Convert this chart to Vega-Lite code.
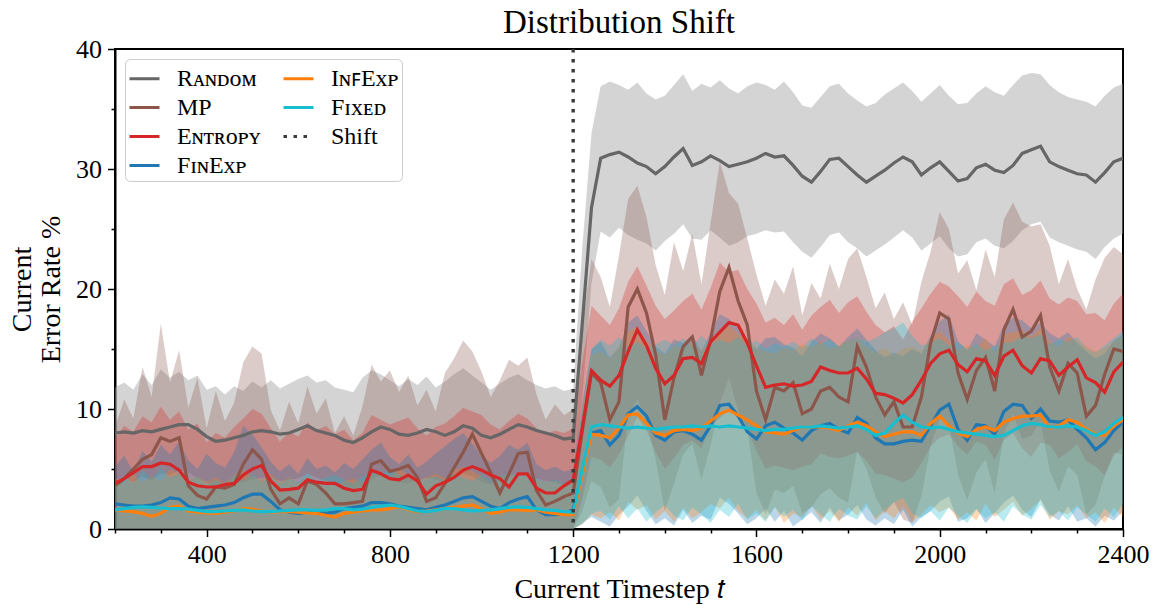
{
  "$schema": "https://vega.github.io/schema/vega-lite/v6.json",
  "width": 1008,
  "height": 480,
  "autosize": {"type": "none"},
  "padding": {"left": 115, "top": 49, "right": 30, "bottom": 76},
  "background": "white",
  "config": {
    "font": "Liberation Serif",
    "view": {"stroke": "black", "strokeWidth": 2},
    "axis": {
      "grid": false,
      "domainColor": "black",
      "domainWidth": 2,
      "tickColor": "black",
      "tickWidth": 1.5,
      "labelColor": "black",
      "labelFont": "Liberation Serif",
      "labelFontSize": 26,
      "titleFont": "Liberation Serif",
      "titleFontSize": 28,
      "titleFontWeight": "normal",
      "titleColor": "black"
    }
  },
  "title": {
    "text": "Distribution Shift",
    "font": "Liberation Serif",
    "fontSize": 33,
    "fontWeight": "normal",
    "color": "black",
    "anchor": "middle",
    "frame": "group",
    "offset": -4
  },
  "data": {
    "values": [
      {"t":200,"r":8.0,"rl":4.1,"rh":11.8,"m":3.6,"ml":0,"mh":8.5,"e":3.8,"el":0,"eh":7.5,"f":2.1,"fl":0,"fh":5.2,"i":1.6,"il":0,"ih":4.2,"x":1.6,"xl":0,"xh":3.9},
      {"t":220,"r":8.1,"rl":4.3,"rh":12.2,"m":4.2,"ml":0,"mh":10.8,"e":4.2,"el":0,"eh":8.6,"f":2.0,"fl":0,"fh":6.1,"i":1.5,"il":0,"ih":3.8,"x":1.7,"xl":0,"xh":4.4},
      {"t":240,"r":8.0,"rl":3.9,"rh":11.6,"m":5.0,"ml":0,"mh":9.2,"e":4.7,"el":0,"eh":8.1,"f":1.9,"fl":0,"fh":4.8,"i":1.45,"il":0,"ih":4.6,"x":1.8,"xl":0,"xh":3.8},
      {"t":260,"r":8.2,"rl":4.4,"rh":12.9,"m":5.8,"ml":0,"mh":13.5,"e":5.2,"el":0,"eh":9.4,"f":1.9,"fl":0,"fh":6.5,"i":1.3,"il":0,"ih":3.9,"x":1.85,"xl":0,"xh":4.9},
      {"t":280,"r":8.1,"rl":4.0,"rh":12.0,"m":6.2,"ml":0,"mh":11.0,"e":5.2,"el":0,"eh":8.9,"f":2.0,"fl":0,"fh":5.6,"i":1.05,"il":0,"ih":4.4,"x":1.8,"xl":0,"xh":4.2},
      {"t":300,"r":8.3,"rl":4.6,"rh":13.3,"m":7.6,"ml":0,"mh":17.1,"e":5.5,"el":0,"eh":10.2,"f":2.2,"fl":0,"fh":7.0,"i":1.3,"il":0,"ih":4.0,"x":1.75,"xl":0,"xh":5.1},
      {"t":320,"r":8.5,"rl":4.5,"rh":12.6,"m":7.3,"ml":0,"mh":12.2,"e":5.4,"el":0,"eh":9.1,"f":2.6,"fl":0,"fh":6.2,"i":1.8,"il":0,"ih":5.0,"x":1.7,"xl":0,"xh":4.3},
      {"t":340,"r":8.7,"rl":4.9,"rh":13.1,"m":7.6,"ml":0,"mh":14.9,"e":4.9,"el":0,"eh":9.8,"f":2.5,"fl":0,"fh":7.3,"i":1.9,"il":0,"ih":4.6,"x":1.7,"xl":0,"xh":4.6},
      {"t":360,"r":8.7,"rl":4.7,"rh":12.4,"m":3.6,"ml":0,"mh":10.1,"e":3.9,"el":0,"eh":8.3,"f":1.9,"fl":0,"fh":5.7,"i":1.5,"il":0,"ih":4.1,"x":1.65,"xl":0,"xh":4.0},
      {"t":380,"r":8.3,"rl":4.2,"rh":12.8,"m":2.8,"ml":0,"mh":12.6,"e":3.6,"el":0,"eh":8.8,"f":1.7,"fl":0,"fh":5.0,"i":1.4,"il":0,"ih":4.4,"x":1.55,"xl":0,"xh":4.4},
      {"t":400,"r":7.7,"rl":3.9,"rh":11.6,"m":2.5,"ml":0,"mh":8.4,"e":3.5,"el":0,"eh":7.2,"f":1.8,"fl":0,"fh":6.3,"i":1.35,"il":0,"ih":3.9,"x":1.45,"xl":0,"xh":3.7},
      {"t":420,"r":7.3,"rl":3.4,"rh":11.9,"m":3.5,"ml":0,"mh":11.5,"e":3.5,"el":0,"eh":8.0,"f":1.9,"fl":0,"fh":5.5,"i":1.3,"il":0,"ih":4.3,"x":1.45,"xl":0,"xh":4.1},
      {"t":440,"r":7.4,"rl":3.5,"rh":11.2,"m":3.4,"ml":0,"mh":9.0,"e":3.7,"el":0,"eh":7.6,"f":2.0,"fl":0,"fh":5.1,"i":1.4,"il":0,"ih":3.8,"x":1.5,"xl":0,"xh":3.6},
      {"t":460,"r":7.6,"rl":3.8,"rh":11.9,"m":3.7,"ml":0,"mh":10.5,"e":3.8,"el":0,"eh":8.5,"f":2.2,"fl":0,"fh":6.4,"i":1.5,"il":0,"ih":4.5,"x":1.55,"xl":0,"xh":4.5},
      {"t":480,"r":7.8,"rl":3.9,"rh":11.5,"m":5.4,"ml":0,"mh":13.9,"e":4.5,"el":0,"eh":9.2,"f":2.6,"fl":0,"fh":8.6,"i":1.7,"il":0,"ih":4.9,"x":1.6,"xl":0,"xh":4.0},
      {"t":500,"r":8.1,"rl":4.1,"rh":12.3,"m":6.6,"ml":0,"mh":15.2,"e":5.0,"el":0,"eh":10.0,"f":2.9,"fl":0,"fh":7.9,"i":1.65,"il":0,"ih":4.4,"x":1.5,"xl":0,"xh":4.6},
      {"t":520,"r":8.2,"rl":4.3,"rh":11.8,"m":5.8,"ml":0,"mh":14.6,"e":5.3,"el":0,"eh":9.6,"f":2.9,"fl":0,"fh":6.8,"i":1.5,"il":0,"ih":4.1,"x":1.45,"xl":0,"xh":3.9},
      {"t":540,"r":8.1,"rl":4.2,"rh":12.4,"m":3.3,"ml":0,"mh":9.9,"e":4.0,"el":0,"eh":8.4,"f":2.3,"fl":0,"fh":5.6,"i":1.4,"il":0,"ih":4.6,"x":1.45,"xl":0,"xh":4.4},
      {"t":560,"r":7.9,"rl":4.0,"rh":11.7,"m":2.1,"ml":0,"mh":8.2,"e":3.25,"el":0,"eh":7.3,"f":1.6,"fl":0,"fh":4.8,"i":1.45,"il":0,"ih":3.9,"x":1.5,"xl":0,"xh":3.8},
      {"t":580,"r":8.0,"rl":4.1,"rh":12.1,"m":2.6,"ml":0,"mh":10.6,"e":3.3,"el":0,"eh":8.1,"f":1.4,"fl":0,"fh":5.4,"i":1.45,"il":0,"ih":4.3,"x":1.55,"xl":0,"xh":4.2},
      {"t":600,"r":8.3,"rl":4.2,"rh":12.5,"m":2.1,"ml":0,"mh":8.8,"e":3.4,"el":0,"eh":7.7,"f":1.3,"fl":0,"fh":4.6,"i":1.4,"il":0,"ih":3.8,"x":1.6,"xl":0,"xh":3.9},
      {"t":620,"r":8.6,"rl":4.6,"rh":12.8,"m":4.0,"ml":0,"mh":11.9,"e":4.1,"el":0,"eh":8.9,"f":1.4,"fl":0,"fh":5.9,"i":1.35,"il":0,"ih":4.4,"x":1.6,"xl":0,"xh":4.7},
      {"t":640,"r":8.2,"rl":4.3,"rh":12.2,"m":3.7,"ml":0,"mh":9.6,"e":3.9,"el":0,"eh":8.2,"f":1.45,"fl":0,"fh":5.0,"i":1.3,"il":0,"ih":3.7,"x":1.55,"xl":0,"xh":4.0},
      {"t":660,"r":8.0,"rl":4.0,"rh":12.4,"m":3.0,"ml":0,"mh":10.9,"e":3.8,"el":0,"eh":8.6,"f":1.3,"fl":0,"fh":5.3,"i":1.15,"il":0,"ih":4.1,"x":1.6,"xl":0,"xh":4.3},
      {"t":680,"r":7.8,"rl":3.8,"rh":11.8,"m":2.1,"ml":0,"mh":8.0,"e":3.8,"el":0,"eh":7.9,"f":1.4,"fl":0,"fh":4.7,"i":1.0,"il":0,"ih":3.6,"x":1.7,"xl":0,"xh":4.5},
      {"t":700,"r":7.4,"rl":3.5,"rh":11.6,"m":2.1,"ml":0,"mh":9.4,"e":3.4,"el":0,"eh":8.3,"f":1.7,"fl":0,"fh":5.5,"i":1.3,"il":0,"ih":4.0,"x":1.7,"xl":0,"xh":4.1},
      {"t":720,"r":7.2,"rl":3.3,"rh":11.4,"m":2.2,"ml":0,"mh":7.8,"e":3.2,"el":0,"eh":7.4,"f":1.8,"fl":0,"fh":5.0,"i":1.4,"il":0,"ih":4.2,"x":1.6,"xl":0,"xh":3.8},
      {"t":740,"r":7.6,"rl":3.6,"rh":12.6,"m":2.3,"ml":0,"mh":10.2,"e":3.3,"el":0,"eh":8.0,"f":1.9,"fl":0,"fh":5.8,"i":1.5,"il":0,"ih":3.9,"x":1.65,"xl":0,"xh":4.4},
      {"t":760,"r":8.1,"rl":4.1,"rh":13.2,"m":5.4,"ml":0,"mh":13.7,"e":4.9,"el":0,"eh":9.5,"f":2.2,"fl":0,"fh":6.6,"i":1.6,"il":0,"ih":4.5,"x":1.8,"xl":0,"xh":4.8},
      {"t":780,"r":8.5,"rl":4.5,"rh":12.9,"m":5.7,"ml":0,"mh":12.3,"e":4.6,"el":0,"eh":9.1,"f":2.2,"fl":0,"fh":7.2,"i":1.6,"il":0,"ih":4.8,"x":1.9,"xl":0,"xh":4.6},
      {"t":800,"r":8.3,"rl":4.4,"rh":12.4,"m":4.8,"ml":0,"mh":13.2,"e":4.2,"el":0,"eh":8.7,"f":2.1,"fl":0,"fh":6.0,"i":1.7,"il":0,"ih":4.3,"x":2.0,"xl":0,"xh":5.0},
      {"t":820,"r":7.9,"rl":3.9,"rh":11.9,"m":5.0,"ml":0,"mh":11.4,"e":4.1,"el":0,"eh":9.0,"f":1.9,"fl":0,"fh":5.4,"i":1.85,"il":0,"ih":5.1,"x":1.9,"xl":0,"xh":4.5},
      {"t":840,"r":7.8,"rl":3.8,"rh":12.5,"m":5.3,"ml":0,"mh":12.8,"e":4.5,"el":0,"eh":9.3,"f":1.8,"fl":0,"fh":6.2,"i":1.6,"il":0,"ih":4.4,"x":1.7,"xl":0,"xh":4.2},
      {"t":860,"r":8.0,"rl":4.0,"rh":12.0,"m":4.3,"ml":0,"mh":10.3,"e":4.0,"el":0,"eh":8.4,"f":1.7,"fl":0,"fh":5.1,"i":1.45,"il":0,"ih":4.0,"x":1.5,"xl":0,"xh":3.9},
      {"t":880,"r":8.3,"rl":4.3,"rh":12.7,"m":2.3,"ml":0,"mh":11.6,"e":2.9,"el":0,"eh":7.8,"f":1.6,"fl":0,"fh":5.6,"i":1.5,"il":0,"ih":4.3,"x":1.45,"xl":0,"xh":4.2},
      {"t":900,"r":8.1,"rl":4.1,"rh":11.8,"m":2.6,"ml":0,"mh":9.8,"e":3.6,"el":0,"eh":8.5,"f":1.8,"fl":0,"fh":6.3,"i":1.6,"il":0,"ih":4.6,"x":1.55,"xl":0,"xh":4.4},
      {"t":920,"r":7.8,"rl":3.9,"rh":12.3,"m":3.8,"ml":0,"mh":13.0,"e":3.9,"el":0,"eh":8.8,"f":2.0,"fl":0,"fh":6.9,"i":1.7,"il":0,"ih":4.2,"x":1.7,"xl":0,"xh":4.0},
      {"t":940,"r":8.1,"rl":4.2,"rh":12.9,"m":5.1,"ml":0,"mh":14.2,"e":4.3,"el":0,"eh":9.4,"f":2.3,"fl":0,"fh":7.5,"i":1.8,"il":0,"ih":4.9,"x":1.7,"xl":0,"xh":4.6},
      {"t":960,"r":8.6,"rl":4.6,"rh":13.4,"m":6.4,"ml":0,"mh":15.7,"e":4.9,"el":0,"eh":10.1,"f":2.6,"fl":0,"fh":8.0,"i":1.9,"il":0,"ih":5.2,"x":1.6,"xl":0,"xh":4.3},
      {"t":980,"r":8.4,"rl":4.4,"rh":12.8,"m":7.9,"ml":0,"mh":14.8,"e":5.2,"el":0,"eh":9.8,"f":2.7,"fl":0,"fh":7.1,"i":2.0,"il":0,"ih":4.8,"x":1.5,"xl":0,"xh":4.0},
      {"t":1000,"r":7.8,"rl":3.9,"rh":12.2,"m":6.3,"ml":0,"mh":13.1,"e":4.9,"el":0,"eh":9.5,"f":2.3,"fl":0,"fh":6.2,"i":1.7,"il":0,"ih":4.4,"x":1.55,"xl":0,"xh":4.5},
      {"t":1020,"r":7.6,"rl":3.7,"rh":11.6,"m":4.7,"ml":0,"mh":11.0,"e":4.5,"el":0,"eh":8.7,"f":1.9,"fl":0,"fh":5.5,"i":1.3,"il":0,"ih":3.9,"x":1.6,"xl":0,"xh":4.1},
      {"t":1040,"r":7.9,"rl":4.0,"rh":12.1,"m":3.0,"ml":0,"mh":12.4,"e":4.2,"el":0,"eh":8.3,"f":1.7,"fl":0,"fh":6.1,"i":1.4,"il":0,"ih":4.3,"x":1.7,"xl":0,"xh":4.4},
      {"t":1060,"r":8.3,"rl":4.3,"rh":12.6,"m":4.6,"ml":0,"mh":14.1,"e":3.5,"el":0,"eh":9.0,"f":2.2,"fl":0,"fh":7.0,"i":1.6,"il":0,"ih":4.7,"x":1.8,"xl":0,"xh":4.7},
      {"t":1080,"r":8.7,"rl":4.7,"rh":12.9,"m":6.3,"ml":0,"mh":13.6,"e":4.6,"el":0,"eh":9.6,"f":2.5,"fl":0,"fh":6.6,"i":1.6,"il":0,"ih":4.2,"x":1.85,"xl":0,"xh":4.3},
      {"t":1100,"r":8.5,"rl":4.5,"rh":12.4,"m":6.4,"ml":0,"mh":14.3,"e":4.6,"el":0,"eh":9.2,"f":2.7,"fl":0,"fh":7.2,"i":1.55,"il":0,"ih":4.5,"x":1.8,"xl":0,"xh":4.6},
      {"t":1120,"r":8.2,"rl":4.2,"rh":12.0,"m":3.2,"ml":0,"mh":11.2,"e":3.4,"el":0,"eh":8.4,"f":1.6,"fl":0,"fh":5.4,"i":1.6,"il":0,"ih":4.1,"x":1.7,"xl":0,"xh":4.2},
      {"t":1140,"r":8.0,"rl":4.0,"rh":11.7,"m":2.0,"ml":0,"mh":9.1,"e":3.0,"el":0,"eh":7.9,"f":1.2,"fl":0,"fh":4.9,"i":1.4,"il":0,"ih":3.9,"x":1.6,"xl":0,"xh":3.9},
      {"t":1160,"r":7.8,"rl":3.9,"rh":11.9,"m":2.3,"ml":0,"mh":10.4,"e":3.0,"el":0,"eh":8.2,"f":1.2,"fl":0,"fh":5.2,"i":1.3,"il":0,"ih":4.0,"x":1.55,"xl":0,"xh":4.1},
      {"t":1180,"r":7.5,"rl":3.6,"rh":11.5,"m":2.7,"ml":0,"mh":9.5,"e":3.6,"el":0,"eh":8.0,"f":1.3,"fl":0,"fh":4.8,"i":1.2,"il":0,"ih":3.7,"x":1.45,"xl":0,"xh":3.8},
      {"t":1200,"r":7.6,"rl":3.7,"rh":11.7,"m":3.0,"ml":0,"mh":10.0,"e":4.1,"el":0,"eh":8.4,"f":1.6,"fl":0,"fh":5.0,"i":1.2,"il":0,"ih":3.9,"x":1.4,"xl":0,"xh":3.7},
      {"t":1220,"r":17.2,"rl":11.0,"rh":23.5,"m":8.2,"ml":1.5,"mh":17.0,"e":8.5,"el":2.5,"eh":14.0,"f":4.7,"fl":0.5,"fh":10.5,"i":4.6,"il":0.4,"ih":10.0,"x":5.0,"xl":0.4,"xh":10.2},
      {"t":1240,"r":26.8,"rl":20.5,"rh":33.0,"m":13.0,"ml":4.0,"mh":22.5,"e":13.2,"el":6.0,"eh":18.6,"f":8.0,"fl":1.0,"fh":15.0,"i":7.9,"il":1.2,"ih":14.5,"x":8.5,"xl":1.3,"xh":15.0},
      {"t":1260,"r":30.9,"rl":24.8,"rh":36.9,"m":12.2,"ml":3.5,"mh":21.0,"e":12.4,"el":5.8,"eh":17.8,"f":8.2,"fl":0.6,"fh":15.6,"i":7.8,"il":0.9,"ih":14.8,"x":8.7,"xl":1.5,"xh":15.8},
      {"t":1280,"r":31.2,"rl":24.3,"rh":37.3,"m":9.1,"ml":1.8,"mh":18.5,"e":11.9,"el":5.1,"eh":17.0,"f":7.0,"fl":0.2,"fh":14.3,"i":7.6,"il":1.4,"ih":14.2,"x":8.6,"xl":0.8,"xh":15.3},
      {"t":1300,"r":31.4,"rl":25.1,"rh":37.0,"m":10.6,"ml":2.5,"mh":22.8,"e":12.8,"el":6.2,"eh":18.4,"f":7.8,"fl":1.2,"fh":15.1,"i":8.4,"il":0.7,"ih":15.2,"x":8.5,"xl":1.9,"xh":16.0},
      {"t":1320,"r":31.0,"rl":24.5,"rh":36.6,"m":18.5,"ml":9.4,"mh":27.5,"e":14.8,"el":7.8,"eh":20.6,"f":9.6,"fl":1.9,"fh":17.2,"i":9.5,"il":2.3,"ih":16.4,"x":8.4,"xl":0.9,"xh":15.1},
      {"t":1340,"r":30.5,"rl":24.1,"rh":37.2,"m":20.0,"ml":10.8,"mh":28.6,"e":16.6,"el":9.3,"eh":21.9,"f":10.2,"fl":2.8,"fh":17.8,"i":9.6,"il":1.6,"ih":16.9,"x":8.5,"xl":1.7,"xh":15.6},
      {"t":1360,"r":30.2,"rl":23.8,"rh":36.3,"m":18.0,"ml":9.0,"mh":26.0,"e":15.3,"el":8.2,"eh":20.3,"f":9.4,"fl":1.5,"fh":16.5,"i":8.8,"il":2.0,"ih":15.7,"x":8.4,"xl":0.6,"xh":15.0},
      {"t":1380,"r":29.6,"rl":23.2,"rh":35.8,"m":14.5,"ml":5.8,"mh":22.0,"e":13.4,"el":6.4,"eh":18.6,"f":7.8,"fl":0.4,"fh":15.2,"i":8.0,"il":0.8,"ih":14.9,"x":8.3,"xl":1.4,"xh":15.4},
      {"t":1400,"r":30.2,"rl":24.0,"rh":36.1,"m":9.1,"ml":1.5,"mh":19.5,"e":12.1,"el":5.0,"eh":17.5,"f":7.4,"fl":0.9,"fh":14.6,"i":7.8,"il":1.5,"ih":14.5,"x":8.4,"xl":2.0,"xh":15.8},
      {"t":1420,"r":31.0,"rl":24.6,"rh":37.0,"m":12.6,"ml":3.8,"mh":23.9,"e":12.8,"el":5.9,"eh":18.2,"f":8.1,"fl":0.3,"fh":15.8,"i":8.2,"il":0.6,"ih":15.3,"x":8.5,"xl":1.1,"xh":15.3},
      {"t":1440,"r":31.7,"rl":25.4,"rh":37.9,"m":15.2,"ml":6.2,"mh":21.5,"e":14.2,"el":7.0,"eh":19.0,"f":8.2,"fl":1.6,"fh":15.5,"i":8.3,"il":1.8,"ih":15.0,"x":8.5,"xl":0.7,"xh":15.9},
      {"t":1460,"r":30.3,"rl":24.2,"rh":36.5,"m":16.0,"ml":7.1,"mh":24.6,"e":14.3,"el":7.4,"eh":19.6,"f":7.9,"fl":0.5,"fh":16.2,"i":8.2,"il":0.9,"ih":15.6,"x":8.6,"xl":1.8,"xh":15.2},
      {"t":1480,"r":30.6,"rl":24.1,"rh":37.1,"m":12.8,"ml":4.1,"mh":20.4,"e":13.8,"el":6.7,"eh":18.3,"f":7.4,"fl":1.1,"fh":14.8,"i":8.4,"il":1.4,"ih":14.9,"x":8.5,"xl":1.2,"xh":16.1},
      {"t":1500,"r":31.1,"rl":24.9,"rh":36.8,"m":15.8,"ml":7.0,"mh":25.5,"e":15.6,"el":8.6,"eh":20.1,"f":8.6,"fl":0.8,"fh":16.4,"i":9.0,"il":2.1,"ih":15.8,"x":8.6,"xl":0.5,"xh":15.4},
      {"t":1520,"r":30.7,"rl":24.3,"rh":37.4,"m":19.8,"ml":10.5,"mh":30.6,"e":16.4,"el":9.2,"eh":22.2,"f":10.3,"fl":2.6,"fh":17.9,"i":9.6,"il":1.7,"ih":16.6,"x":8.5,"xl":1.6,"xh":15.8},
      {"t":1540,"r":30.2,"rl":23.6,"rh":36.7,"m":21.8,"ml":12.6,"mh":28.0,"e":17.2,"el":10.0,"eh":21.4,"f":10.4,"fl":2.1,"fh":17.5,"i":9.9,"il":2.6,"ih":17.0,"x":8.6,"xl":1.0,"xh":15.5},
      {"t":1560,"r":30.4,"rl":23.9,"rh":36.3,"m":19.0,"ml":9.9,"mh":27.1,"e":17.0,"el":9.5,"eh":21.6,"f":9.4,"fl":1.3,"fh":16.8,"i":9.5,"il":1.5,"ih":16.2,"x":8.5,"xl":2.1,"xh":16.0},
      {"t":1580,"r":30.6,"rl":24.4,"rh":36.9,"m":17.0,"ml":8.3,"mh":24.2,"e":15.5,"el":8.4,"eh":20.0,"f":8.1,"fl":0.4,"fh":15.6,"i":9.1,"il":0.9,"ih":15.8,"x":8.4,"xl":0.8,"xh":15.3},
      {"t":1600,"r":30.9,"rl":24.6,"rh":37.2,"m":11.5,"ml":3.0,"mh":21.2,"e":13.6,"el":6.5,"eh":18.8,"f":7.5,"fl":0.9,"fh":15.0,"i":8.6,"il":1.6,"ih":15.1,"x":8.3,"xl":1.3,"xh":15.7},
      {"t":1620,"r":31.3,"rl":24.9,"rh":37.0,"m":9.1,"ml":1.2,"mh":18.6,"e":11.8,"el":5.0,"eh":17.2,"f":8.6,"fl":1.7,"fh":15.9,"i":8.1,"il":0.7,"ih":14.8,"x":8.2,"xl":0.6,"xh":15.0},
      {"t":1640,"r":31.0,"rl":24.7,"rh":36.6,"m":11.8,"ml":3.3,"mh":20.8,"e":12.0,"el":5.3,"eh":17.6,"f":8.9,"fl":0.6,"fh":16.0,"i":8.0,"il":1.9,"ih":14.6,"x":8.3,"xl":1.8,"xh":15.5},
      {"t":1660,"r":31.1,"rl":24.8,"rh":37.3,"m":11.5,"ml":3.0,"mh":19.6,"e":12.1,"el":5.1,"eh":17.0,"f":8.4,"fl":1.5,"fh":15.4,"i":7.9,"il":0.5,"ih":15.1,"x":8.3,"xl":1.0,"xh":15.2},
      {"t":1680,"r":30.3,"rl":23.9,"rh":36.4,"m":12.2,"ml":3.6,"mh":21.9,"e":11.9,"el":4.9,"eh":17.9,"f":8.0,"fl":0.2,"fh":15.1,"i":8.2,"il":1.3,"ih":14.9,"x":8.4,"xl":1.6,"xh":15.6},
      {"t":1700,"r":29.4,"rl":23.1,"rh":35.3,"m":9.6,"ml":1.3,"mh":17.8,"e":12.0,"el":5.2,"eh":16.6,"f":7.4,"fl":0.8,"fh":14.4,"i":8.5,"il":1.0,"ih":15.4,"x":8.5,"xl":0.7,"xh":15.1},
      {"t":1720,"r":28.9,"rl":22.6,"rh":35.1,"m":10.0,"ml":1.8,"mh":20.5,"e":12.3,"el":5.4,"eh":17.8,"f":8.2,"fl":1.4,"fh":15.6,"i":8.5,"il":2.0,"ih":15.1,"x":8.5,"xl":1.9,"xh":15.9},
      {"t":1740,"r":29.8,"rl":23.5,"rh":36.0,"m":11.5,"ml":2.9,"mh":19.2,"e":13.5,"el":6.3,"eh":18.5,"f":8.6,"fl":0.5,"fh":16.3,"i":8.5,"il":0.8,"ih":15.6,"x":8.6,"xl":1.2,"xh":15.4},
      {"t":1760,"r":30.8,"rl":24.5,"rh":36.9,"m":11.8,"ml":3.4,"mh":22.1,"e":13.2,"el":6.0,"eh":19.1,"f":8.8,"fl":1.8,"fh":15.9,"i":8.4,"il":1.5,"ih":15.0,"x":8.5,"xl":0.6,"xh":15.8},
      {"t":1780,"r":30.9,"rl":24.7,"rh":37.1,"m":11.0,"ml":2.6,"mh":20.0,"e":13.0,"el":5.9,"eh":18.0,"f":8.3,"fl":0.7,"fh":15.2,"i":8.2,"il":0.6,"ih":15.3,"x":8.4,"xl":1.7,"xh":15.2},
      {"t":1800,"r":30.2,"rl":23.9,"rh":36.3,"m":10.6,"ml":2.2,"mh":22.5,"e":13.0,"el":6.1,"eh":18.9,"f":8.0,"fl":1.2,"fh":16.0,"i":8.6,"il":1.8,"ih":15.7,"x":8.5,"xl":1.1,"xh":15.7},
      {"t":1820,"r":29.5,"rl":23.4,"rh":35.7,"m":15.2,"ml":6.5,"mh":23.4,"e":13.4,"el":6.4,"eh":19.4,"f":9.3,"fl":2.0,"fh":16.7,"i":8.9,"il":1.1,"ih":15.9,"x":8.6,"xl":0.8,"xh":15.9},
      {"t":1840,"r":28.9,"rl":22.7,"rh":35.2,"m":13.5,"ml":5.0,"mh":21.0,"e":12.5,"el":5.7,"eh":18.1,"f":8.8,"fl":0.8,"fh":15.8,"i":8.6,"il":2.2,"ih":15.2,"x":8.3,"xl":1.9,"xh":15.6},
      {"t":1860,"r":29.4,"rl":23.2,"rh":35.5,"m":11.0,"ml":2.6,"mh":18.4,"e":11.3,"el":4.6,"eh":17.0,"f":7.6,"fl":0.3,"fh":14.9,"i":8.1,"il":0.7,"ih":14.7,"x":7.8,"xl":0.9,"xh":15.9},
      {"t":1880,"r":29.9,"rl":23.7,"rh":36.2,"m":9.5,"ml":1.3,"mh":19.7,"e":11.2,"el":4.5,"eh":16.4,"f":7.1,"fl":0.9,"fh":14.3,"i":7.7,"il":1.5,"ih":15.1,"x":8.0,"xl":1.6,"xh":16.4},
      {"t":1900,"r":30.5,"rl":24.3,"rh":36.7,"m":10.6,"ml":2.3,"mh":17.5,"e":10.9,"el":4.2,"eh":16.9,"f":7.1,"fl":0.4,"fh":14.7,"i":7.9,"il":0.9,"ih":14.5,"x":8.8,"xl":2.2,"xh":16.7},
      {"t":1920,"r":31.0,"rl":24.9,"rh":37.2,"m":8.5,"ml":0.8,"mh":18.9,"e":10.5,"el":3.9,"eh":15.8,"f":7.3,"fl":1.6,"fh":14.4,"i":8.1,"il":1.9,"ih":15.0,"x":9.5,"xl":2.6,"xh":17.2},
      {"t":1940,"r":30.6,"rl":24.3,"rh":36.5,"m":8.5,"ml":0.5,"mh":17.0,"e":11.2,"el":4.3,"eh":17.3,"f":7.4,"fl":0.2,"fh":15.0,"i":8.1,"il":0.6,"ih":15.2,"x":8.9,"xl":1.3,"xh":16.1},
      {"t":1960,"r":29.5,"rl":23.2,"rh":35.6,"m":11.0,"ml":2.7,"mh":20.6,"e":12.4,"el":5.5,"eh":18.4,"f":7.3,"fl":1.0,"fh":14.6,"i":7.8,"il":1.2,"ih":14.8,"x":8.5,"xl":0.9,"xh":15.3},
      {"t":1980,"r":30.1,"rl":23.8,"rh":36.3,"m":15.5,"ml":6.9,"mh":23.1,"e":13.8,"el":6.9,"eh":19.6,"f":8.6,"fl":1.5,"fh":16.1,"i":8.8,"il":2.0,"ih":15.9,"x":8.4,"xl":1.5,"xh":15.5},
      {"t":2000,"r":30.6,"rl":24.4,"rh":37.0,"m":18.0,"ml":9.2,"mh":26.4,"e":14.6,"el":7.6,"eh":20.6,"f":9.9,"fl":2.3,"fh":17.3,"i":9.4,"il":1.4,"ih":16.5,"x":8.5,"xl":0.7,"xh":15.9},
      {"t":2020,"r":29.8,"rl":23.4,"rh":36.1,"m":17.5,"ml":8.8,"mh":25.0,"e":14.9,"el":7.9,"eh":20.2,"f":10.4,"fl":2.7,"fh":17.9,"i":8.6,"il":1.8,"ih":15.7,"x":8.3,"xl":1.8,"xh":15.3},
      {"t":2040,"r":29.0,"rl":22.7,"rh":35.4,"m":13.0,"ml":4.5,"mh":21.3,"e":13.7,"el":6.9,"eh":19.4,"f":8.3,"fl":0.6,"fh":15.6,"i":8.0,"il":0.8,"ih":14.9,"x":8.1,"xl":1.1,"xh":15.6},
      {"t":2060,"r":29.2,"rl":22.9,"rh":35.5,"m":10.8,"ml":2.4,"mh":22.4,"e":13.1,"el":6.2,"eh":18.5,"f":7.4,"fl":0.9,"fh":14.9,"i":7.7,"il":1.4,"ih":15.3,"x":8.0,"xl":0.5,"xh":15.0},
      {"t":2080,"r":30.1,"rl":23.9,"rh":36.3,"m":13.2,"ml":4.7,"mh":19.9,"e":14.2,"el":7.3,"eh":19.8,"f":8.7,"fl":1.7,"fh":16.3,"i":8.3,"il":0.7,"ih":15.1,"x":7.9,"xl":1.6,"xh":15.4},
      {"t":2100,"r":30.4,"rl":24.2,"rh":36.9,"m":14.3,"ml":5.8,"mh":23.3,"e":14.0,"el":7.0,"eh":19.0,"f":8.6,"fl":0.5,"fh":15.8,"i":8.5,"il":2.1,"ih":15.9,"x":7.8,"xl":0.9,"xh":14.9},
      {"t":2120,"r":29.9,"rl":23.6,"rh":36.4,"m":11.5,"ml":3.0,"mh":21.0,"e":12.8,"el":5.8,"eh":18.6,"f":7.9,"fl":1.3,"fh":15.2,"i":8.2,"il":1.0,"ih":14.7,"x":7.7,"xl":1.4,"xh":15.2},
      {"t":2140,"r":29.7,"rl":23.4,"rh":36.1,"m":16.6,"ml":7.9,"mh":25.8,"e":14.4,"el":7.4,"eh":20.4,"f":9.8,"fl":2.2,"fh":17.0,"i":8.9,"il":1.6,"ih":16.2,"x":7.8,"xl":0.6,"xh":15.5},
      {"t":2160,"r":30.3,"rl":24.0,"rh":37.0,"m":18.3,"ml":9.6,"mh":27.2,"e":14.9,"el":8.0,"eh":20.9,"f":10.4,"fl":2.8,"fh":17.6,"i":9.2,"il":2.3,"ih":16.4,"x":8.2,"xl":1.9,"xh":15.6},
      {"t":2180,"r":31.3,"rl":24.9,"rh":37.8,"m":16.0,"ml":7.5,"mh":25.6,"e":13.6,"el":6.7,"eh":19.5,"f":10.3,"fl":1.6,"fh":17.4,"i":9.4,"il":1.1,"ih":16.6,"x":8.6,"xl":1.2,"xh":16.1},
      {"t":2200,"r":31.6,"rl":25.4,"rh":38.0,"m":16.5,"ml":7.8,"mh":25.2,"e":13.0,"el":6.0,"eh":19.9,"f":9.2,"fl":1.0,"fh":16.7,"i":9.4,"il":1.7,"ih":16.0,"x":8.8,"xl":0.8,"xh":15.9},
      {"t":2220,"r":31.9,"rl":25.6,"rh":37.9,"m":17.8,"ml":9.0,"mh":25.4,"e":14.2,"el":7.2,"eh":20.7,"f":10.0,"fl":2.5,"fh":17.2,"i":9.5,"il":2.4,"ih":16.8,"x":8.7,"xl":2.0,"xh":16.2},
      {"t":2240,"r":30.6,"rl":24.3,"rh":37.0,"m":13.5,"ml":4.9,"mh":23.6,"e":14.0,"el":7.0,"eh":19.2,"f":9.0,"fl":1.2,"fh":16.3,"i":8.4,"il":0.8,"ih":15.6,"x":8.5,"xl":1.0,"xh":15.4},
      {"t":2260,"r":30.2,"rl":23.9,"rh":36.4,"m":11.5,"ml":3.1,"mh":20.4,"e":12.8,"el":5.9,"eh":18.7,"f":8.9,"fl":0.7,"fh":15.9,"i":8.6,"il":1.5,"ih":15.2,"x":8.5,"xl":1.5,"xh":15.8},
      {"t":2280,"r":29.9,"rl":23.6,"rh":36.0,"m":13.8,"ml":5.2,"mh":22.5,"e":13.5,"el":6.4,"eh":19.3,"f":9.1,"fl":1.9,"fh":16.4,"i":9.1,"il":1.2,"ih":16.0,"x":8.6,"xl":0.7,"xh":15.6},
      {"t":2300,"r":29.6,"rl":23.3,"rh":35.8,"m":13.0,"ml":4.5,"mh":20.0,"e":14.1,"el":7.1,"eh":19.0,"f":8.3,"fl":0.6,"fh":15.5,"i":8.9,"il":2.0,"ih":15.7,"x":8.5,"xl":1.8,"xh":16.0},
      {"t":2320,"r":29.5,"rl":23.1,"rh":35.6,"m":9.4,"ml":1.2,"mh":18.3,"e":12.6,"el":5.6,"eh":17.9,"f":7.6,"fl":0.9,"fh":14.8,"i":8.3,"il":0.9,"ih":15.2,"x":8.2,"xl":1.2,"xh":15.1},
      {"t":2340,"r":28.9,"rl":22.5,"rh":35.2,"m":10.3,"ml":2.0,"mh":20.8,"e":12.2,"el":5.2,"eh":18.0,"f":6.6,"fl":0.2,"fh":14.2,"i":7.9,"il":1.4,"ih":14.8,"x":7.8,"xl":0.6,"xh":14.7},
      {"t":2360,"r":29.7,"rl":23.5,"rh":36.1,"m":12.9,"ml":4.4,"mh":22.6,"e":11.4,"el":4.5,"eh":17.4,"f":7.2,"fl":1.1,"fh":14.6,"i":7.8,"il":0.5,"ih":15.1,"x":8.1,"xl":1.7,"xh":15.3},
      {"t":2380,"r":30.6,"rl":24.2,"rh":36.8,"m":15.0,"ml":6.4,"mh":23.5,"e":13.1,"el":6.1,"eh":18.8,"f":8.2,"fl":0.7,"fh":15.7,"i":8.6,"il":1.8,"ih":15.6,"x":8.8,"xl":1.0,"xh":15.9},
      {"t":2400,"r":30.9,"rl":24.6,"rh":37.1,"m":14.8,"ml":6.2,"mh":22.9,"e":13.9,"el":6.9,"eh":19.6,"f":8.9,"fl":1.5,"fh":16.2,"i":9.1,"il":1.0,"ih":16.1,"x":9.3,"xl":2.1,"xh":16.5}
    ]
  },
  "encoding": {
    "x": {
      "field": "t",
      "type": "quantitative",
      "scale": {"domain": [200, 2400], "nice": false, "zero": false},
      "axis": {
        "title": "Current Timestep 𝑡",
        "values": [200, 300, 400, 500, 600, 700, 800, 900, 1000, 1100, 1200, 1300, 1400, 1500, 1600, 1700, 1800, 1900, 2000, 2100, 2200, 2300, 2400],
        "format": "d",
        "labelExpr": "datum.value % 400 === 0 ? datum.label : ''",
        "tickSize": {"condition": {"test": "datum.value % 400 === 0", "value": 7.5}, "value": 4},
        "labelPadding": 5,
        "titlePadding": 8,
        "labelFlush": false
      }
    }
  },
  "layer": [
    {
      "mark": {"type": "area", "color": "#a0a0a0", "opacity": 0.45, "clip": true},
      "encoding": {
        "y": {
          "field": "rl",
          "type": "quantitative",
          "scale": {"domain": [0, 40], "nice": false},
          "axis": {
            "title": ["Current", "Error Rate %"],
            "titleLineHeight": 29,
            "titlePadding": 10,
            "values": [0, 5, 10, 15, 20, 25, 30, 35, 40],
            "labelExpr": "datum.value % 10 === 0 ? datum.label : ''",
            "tickSize": {"condition": {"test": "datum.value % 10 === 0", "value": 7.5}, "value": 4},
            "labelPadding": 6,
            "labelFlush": false
          }
        },
        "y2": {"field": "rh"}
      }
    },
    {
      "mark": {"type": "area", "color": "#8c564b", "opacity": 0.3, "clip": true},
      "encoding": {"y": {"field": "ml", "type": "quantitative"}, "y2": {"field": "mh"}}
    },
    {
      "mark": {"type": "area", "color": "#d62728", "opacity": 0.3, "clip": true},
      "encoding": {"y": {"field": "el", "type": "quantitative"}, "y2": {"field": "eh"}}
    },
    {
      "mark": {"type": "area", "color": "#1f77b4", "opacity": 0.3, "clip": true},
      "encoding": {"y": {"field": "fl", "type": "quantitative"}, "y2": {"field": "fh"}}
    },
    {
      "mark": {"type": "area", "color": "#ff7f0e", "opacity": 0.3, "clip": true},
      "encoding": {"y": {"field": "il", "type": "quantitative"}, "y2": {"field": "ih"}}
    },
    {
      "mark": {"type": "area", "color": "#17becf", "opacity": 0.3, "clip": true},
      "encoding": {"y": {"field": "xl", "type": "quantitative"}, "y2": {"field": "xh"}}
    },
    {
      "mark": {"type": "line", "strokeWidth": 3.2, "clip": true},
      "encoding": {
        "y": {"field": "r", "type": "quantitative"},
        "color": {
          "datum": "Random",
          "type": "nominal",
          "scale": {
            "domain": ["Random", "MP", "Entropy", "FinExp", "InfExp", "Fixed", "Shift"],
            "range": ["#666666", "#8c564b", "#d62728", "#1f77b4", "#ff7f0e", "#17becf", "#3a3a3a"]
          },
          "legend": {
            "title": null,
            "orient": "top-left",
            "offset": 10,
            "columns": 2,
            "columnPadding": 16,
            "rowPadding": 0,
            "symbolType": "stroke",
            "symbolSize": 900,
            "symbolStrokeWidth": 3,
            "symbolOpacity": 1,
            "labelFont": "Liberation Serif",
            "labelFontSize": 24,
            "labelColor": "black",
            "labelOffset": 16,
            "labelLimit": 300,
            "padding": 3,
            "fillColor": "rgba(255,255,255,0.85)",
            "strokeColor": "#cccccc",
            "cornerRadius": 5,
            "labelExpr": "datum.label === 'Random' ? 'Rᴀɴᴅᴏᴍ' : datum.label === 'Entropy' ? 'Eɴᴛʀᴏᴘʏ' : datum.label === 'FinExp' ? 'FɪɴExᴘ' : datum.label === 'InfExp' ? 'IɴꜰExᴘ' : datum.label === 'Fixed' ? 'Fɪxᴇᴅ' : datum.label",
            "encode": {
              "symbols": {
                "update": {
                  "strokeDash": {"signal": "datum.value === 'Shift' ? [3.5, 6.5] : [1, 0]"}
                }
              }
            }
          }
        }
      }
    },
    {
      "mark": {"type": "line", "strokeWidth": 3.2, "clip": true},
      "encoding": {"y": {"field": "m", "type": "quantitative"}, "color": {"datum": "MP"}}
    },
    {
      "mark": {"type": "line", "strokeWidth": 3.2, "clip": true},
      "encoding": {"y": {"field": "e", "type": "quantitative"}, "color": {"datum": "Entropy"}}
    },
    {
      "mark": {"type": "line", "strokeWidth": 3.2, "clip": true},
      "encoding": {"y": {"field": "f", "type": "quantitative"}, "color": {"datum": "FinExp"}}
    },
    {
      "mark": {"type": "line", "strokeWidth": 3.2, "clip": true},
      "encoding": {"y": {"field": "i", "type": "quantitative"}, "color": {"datum": "InfExp"}}
    },
    {
      "mark": {"type": "line", "strokeWidth": 3.2, "clip": true},
      "encoding": {"y": {"field": "x", "type": "quantitative"}, "color": {"datum": "Fixed"}}
    },
    {
      "data": {"values": [{"t": 1200}]},
      "mark": {"type": "rule", "strokeWidth": 3.4, "strokeDash": [3.5, 6.5]},
      "encoding": {"x": {"field": "t", "type": "quantitative"}, "color": {"datum": "Shift"}}
    }
  ]
}
